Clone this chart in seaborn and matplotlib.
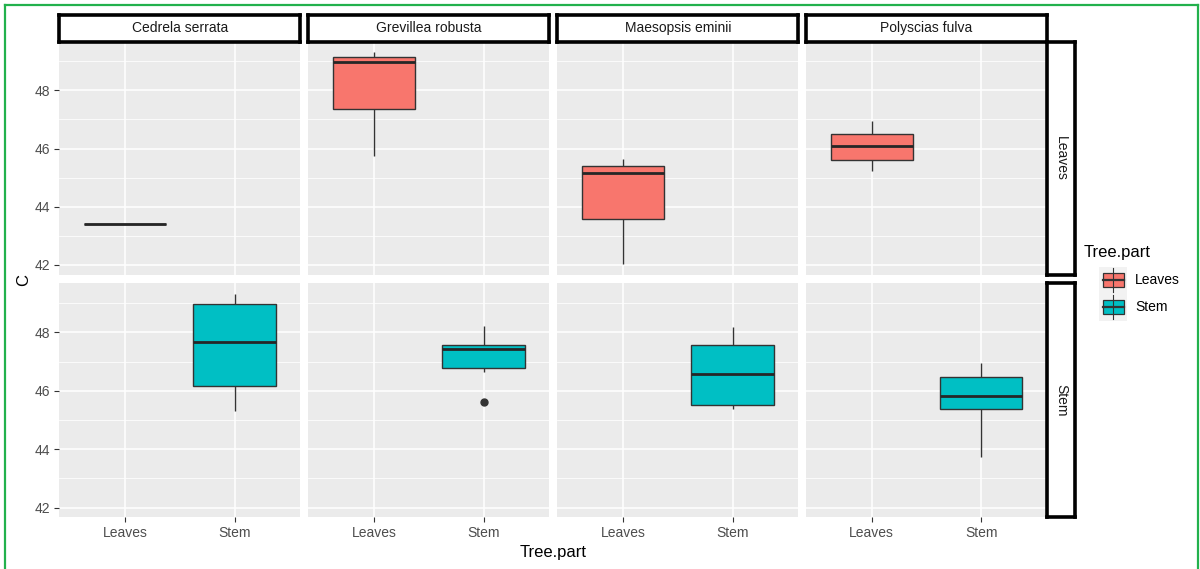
import numpy as np
import pandas as pd
import matplotlib.pyplot as plt
import seaborn as sns
from matplotlib.patches import Rectangle
from matplotlib.ticker import FixedLocator

# values (C content by species and tree part)
species = ["Cedrela serrata", "Grevillea robusta", "Maesopsis eminii", "Polyscias fulva"]
parts = ["Leaves", "Stem"]

cedrela_leaves = [43.4, 43.4]
cedrela_stem = [45.32, 46.18, 47.68, 48.97, 49.30]
grevillea_leaves = [45.75, 47.35, 48.98, 49.15, 49.31]
grevillea_stem = [45.6, 46.63, 46.95, 47.43, 47.5, 47.62, 48.21]
maesopsis_leaves = [42.03, 43.58, 45.16, 45.40, 45.63]
maesopsis_stem = [45.36, 45.52, 46.59, 47.56, 48.17]
polyscias_leaves = [45.21, 45.62, 46.09, 46.51, 46.95]
polyscias_stem = [43.72, 45.36, 45.83, 46.48, 46.94]

groups = {
    ("Cedrela serrata", "Leaves"): cedrela_leaves,
    ("Cedrela serrata", "Stem"): cedrela_stem,
    ("Grevillea robusta", "Leaves"): grevillea_leaves,
    ("Grevillea robusta", "Stem"): grevillea_stem,
    ("Maesopsis eminii", "Leaves"): maesopsis_leaves,
    ("Maesopsis eminii", "Stem"): maesopsis_stem,
    ("Polyscias fulva", "Leaves"): polyscias_leaves,
    ("Polyscias fulva", "Stem"): polyscias_stem,
}
rows = []
for (sp, part), vals in groups.items():
    for v in vals:
        rows.append({"Species": sp, "Tree.part": part, "C": v})
df = pd.DataFrame(rows)

palette = {"Leaves": "#F8766D", "Stem": "#00BFC4"}

plt.rcParams["font.family"] = ["Liberation Sans", "DejaVu Sans"]

W, H = 1200, 569
fig = plt.figure(figsize=(12, 5.69), dpi=100)


def px_rect(x0, y0, x1, y1):
    return [x0 / W, 1 - y1 / H, (x1 - x0) / W, (y1 - y0) / H]


col_x = [59.3, 308.3, 557.3, 806.0]
col_w = 241.0
row_y = [(41.7, 274.5), (283.5, 517.3)]

lo, hi = df["C"].min(), df["C"].max()
pad = (hi - lo) * 0.05
ylim = (lo - pad, hi + pad)

for r, part in enumerate(parts):
    for c, sp in enumerate(species):
        y0, y1 = row_y[r]
        ax = fig.add_axes(px_rect(col_x[c], y0, col_x[c] + col_w, y1))
        sub = df[(df["Species"] == sp) & (df["Tree.part"] == part)]
        sns.boxplot(data=sub, x="Tree.part", y="C", hue="Tree.part",
                    order=parts, hue_order=parts, palette=palette, saturation=1,
                    dodge=False, width=0.75, linecolor="#333333", linewidth=1.0,
                    showcaps=False, legend=False, ax=ax,
                    medianprops={"linewidth": 2.0, "color": "#262626"},
                    flierprops={"marker": "o", "markersize": 5,
                                "markerfacecolor": "#333333", "markeredgecolor": "#333333"})
        ax.set_facecolor("#EBEBEB")
        ax.set_xlim(-0.6, 1.6)
        ax.set_ylim(*ylim)
        ax.set_yticks([42, 44, 46, 48])
        ax.yaxis.set_minor_locator(FixedLocator([43, 45, 47, 49]))
        ax.set_axisbelow(True)
        ax.grid(True, which="major", color="white", linewidth=1.1)
        ax.grid(True, which="minor", axis="y", color="white", linewidth=0.55)
        for s in ax.spines.values():
            s.set_visible(False)
        ax.tick_params(which="major", length=3.5, width=0.8, color="#333333",
                       labelcolor="#4D4D4D", labelsize=10, pad=3)
        ax.tick_params(which="minor", length=0)
        ax.set_xlabel("")
        ax.set_ylabel("")
        if c != 0:
            ax.tick_params(axis="y", left=False, labelleft=False)
        if r != 1:
            ax.tick_params(axis="x", bottom=False, labelbottom=False)

# strips for species (top) and tree part (right)
for c, sp in enumerate(species):
    sax = fig.add_axes(px_rect(col_x[c], 15, col_x[c] + col_w, 41.7))
    sax.set_xticks([])
    sax.set_yticks([])
    sax.set_facecolor("white")
    for s in sax.spines.values():
        s.set_linewidth(2.6)
        s.set_color("black")
    sax.text(0.5, 0.5, sp, ha="center", va="center", fontsize=10,
             color="#1A1A1A", transform=sax.transAxes)

for r, part in enumerate(parts):
    y0, y1 = row_y[r]
    sax = fig.add_axes(px_rect(1047.3, y0, 1075, y1))
    sax.set_xticks([])
    sax.set_yticks([])
    sax.set_facecolor("white")
    for s in sax.spines.values():
        s.set_linewidth(2.6)
        s.set_color("black")
    sax.text(0.5, 0.5, part, ha="center", va="center", fontsize=10,
             color="#1A1A1A", rotation=-90, transform=sax.transAxes)

fig.text(553 / W, 1 - 552 / H, "Tree.part", ha="center", va="center", fontsize=12, color="black")
fig.text(24 / W, 1 - 280 / H, "C", ha="center", va="center", fontsize=12, color="black", rotation=90)

# legend
lax = fig.add_axes([0, 0, 1, 1], facecolor="none")
lax.set_xlim(0, W)
lax.set_ylim(H, 0)
lax.axis("off")
lax.text(1084, 252, "Tree.part", ha="left", va="center", fontsize=12, color="black")
for i, part in enumerate(parts):
    yc = 280 + i * 27
    lax.add_patch(Rectangle((1099, yc - 13.5), 28, 27, facecolor="#F2F2F2", edgecolor="none"))
    lax.plot([1113, 1113], [yc - 12, yc + 12], color="#333333", lw=0.8)
    lax.add_patch(Rectangle((1103, yc - 7), 21, 14, facecolor=palette[part], edgecolor="#333333", lw=0.9))
    lax.plot([1103, 1124], [yc, yc], color="#333333", lw=1.6)
    lax.text(1135, yc, part, ha="left", va="center", fontsize=10, color="black")

# green frame around the image
fig.add_artist(plt.Line2D([4.5 / W, 4.5 / W], [0, 1 - 4.5 / H], color="#22B14C", lw=1.6))
fig.add_artist(plt.Line2D([4.5 / W, 1197.5 / W], [1 - 4.5 / H, 1 - 4.5 / H], color="#22B14C", lw=1.6))
fig.add_artist(plt.Line2D([1197.5 / W, 1197.5 / W], [0, 1 - 4.5 / H], color="#22B14C", lw=1.6))

fig.savefig("out.png", dpi=100)
